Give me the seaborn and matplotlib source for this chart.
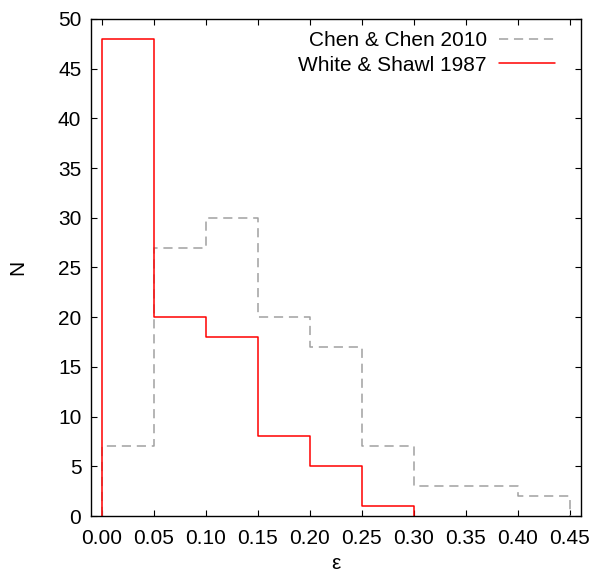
import numpy as np
import pandas as pd
import matplotlib
matplotlib.use("Agg")
import matplotlib.pyplot as plt
import seaborn as sns

# Ellipticity bins (width 0.05) and counts per bin
bin_edges = [0.00, 0.05, 0.10, 0.15, 0.20, 0.25, 0.30, 0.35, 0.40, 0.45]
chen_counts = [7, 27, 30, 20, 17, 7, 3, 3, 2]
white_counts = [48, 20, 18, 8, 5, 1]
x_ticks = [0.00, 0.05, 0.10, 0.15, 0.20, 0.25, 0.30, 0.35, 0.40, 0.45]
y_ticks = [0, 5, 10, 15, 20, 25, 30, 35, 40, 45, 50]


def step_frame(edges, counts):
    """Outline of a histogram as post-step vertices, closed to zero at both ends."""
    n = len(counts)
    xs = [edges[0]] + list(edges[: n + 1])
    ys = [0] + list(counts) + [0]
    return pd.DataFrame({"eps": xs, "N": ys})


sns.set_style("ticks")
plt.rcParams["font.family"] = ["Liberation Sans", "DejaVu Sans"]
plt.rcParams["text.color"] = "black"
plt.rcParams["axes.labelcolor"] = "black"

FS = 15

fig = plt.figure(figsize=(5.93, 5.77), dpi=100)
ax = fig.add_axes([0.1535, 0.1057, 0.8263, 0.8614])

chen = step_frame(bin_edges, chen_counts)
white = step_frame(bin_edges, white_counts)

sns.lineplot(data=chen, x="eps", y="N", ax=ax, estimator=None, sort=False,
             drawstyle="steps-post", color="#a0a0a0", linewidth=1.1,
             linestyle=(0, (6.0, 3.8)), label="Chen & Chen 2010")
sns.lineplot(data=white, x="eps", y="N", ax=ax, estimator=None, sort=False,
             drawstyle="steps-post", color="#ff0000", linewidth=1.1,
             label="White & Shawl 1987")

ax.set_xlim(-0.0103, 0.4606)
ax.set_ylim(0, 50)
ax.set_xticks(x_ticks)
ax.set_xticklabels([f"{t:.2f}" for t in x_ticks])
ax.set_yticks(y_ticks)
ax.set_yticklabels([str(t) for t in y_ticks])

for s in ax.spines.values():
    s.set_visible(True)
    s.set_color("black")
    s.set_linewidth(1.0)

ax.tick_params(axis="both", which="major", direction="in", length=4, width=0.8,
               top=True, right=True, labelsize=FS, pad=7, colors="black")
ax.tick_params(axis="x", pad=9)
ax.grid(False)

ax.set_xlabel("ε", fontsize=FS, labelpad=5)
ax.set_ylabel("N", fontsize=FS, labelpad=22)

leg = ax.legend(loc="upper right", bbox_to_anchor=(0.947, 0.976), frameon=False,
                markerfirst=False, fontsize=FS, handlelength=2.7,
                handletextpad=0.58, labelspacing=0.27, borderpad=0,
                borderaxespad=0)

fig.savefig("out.png", dpi=100)
